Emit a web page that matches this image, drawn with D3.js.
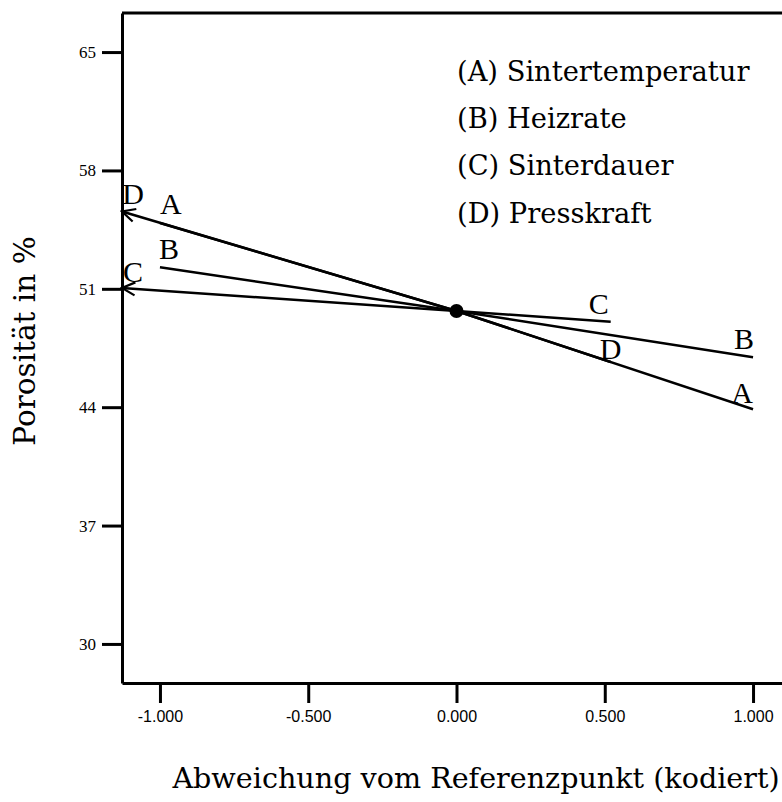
<!DOCTYPE html>
<html>
<head>
<meta charset="utf-8">
<script src="https://cdn.jsdelivr.net/npm/d3@7"></script>
<style>
  body { margin: 0; background: #fff; }
  svg { display: block; }
</style>
</head>
<body>
<script>
// coded deviation from reference point vs. porosity
const factorKeys = ['A', 'B', 'C', 'D'];
const factorNames = ['Sintertemperatur', 'Heizrate', 'Sinterdauer', 'Presskraft'];

const xA = [-1, 0, 1];
const yA = [54.89, 49.69, 43.88];
const xB = [-1, 0, 1];
const yB = [52.27, 49.69, 46.95];
const xC = [-1.128, 0, 0.52];
const yC = [51.05, 49.69, 49.05];
const xD = [-1.128, 0, 0.52];
const yD = [55.57, 49.69, 46.67];

const refPoint = [0, 49.69];

const xTicks = [-1, -0.5, 0, 0.5, 1];
const yTicks = [30, 37, 44, 51, 58, 65];

const width = 782;
const height = 802;

const svg = d3.select('body').append('svg')
  .attr('width', width)
  .attr('height', height);

// plot area: left 122, top 13, bottom 683 (right edge runs off the canvas)
const x = d3.scaleLinear().domain([-1.128, 1.128]).range([122, 791]);
const y = d3.scaleLinear().domain([27.69, 67.31]).range([683, 13]);

const series = [
  { key: 'A', xs: xA, ys: yA, arrow: false },
  { key: 'B', xs: xB, ys: yB, arrow: false },
  { key: 'C', xs: xC, ys: yC, arrow: true },
  { key: 'D', xs: xD, ys: yD, arrow: true }
];

// open chevron for clipped lines
svg.append('defs').append('marker')
  .attr('id', 'chev')
  .attr('markerUnits', 'userSpaceOnUse')
  .attr('viewBox', '-14 -8 16 16')
  .attr('refX', 0).attr('refY', 0)
  .attr('markerWidth', 16).attr('markerHeight', 16)
  .attr('orient', 'auto-start-reverse')
  .append('path')
  .attr('d', 'M-13,-6.5L0,0L-13,6.5')
  .attr('fill', 'none')
  .attr('stroke', '#000')
  .attr('stroke-width', 2.2);

// frame top border
svg.append('line')
  .attr('x1', x.range()[0]).attr('x2', x.range()[1])
  .attr('y1', y.range()[1]).attr('y2', y.range()[1])
  .attr('stroke', '#000').attr('stroke-width', 3);

// axes
const yAxis = svg.append('g')
  .attr('transform', `translate(${x.range()[0]},0)`)
  .call(d3.axisLeft(y).tickValues(yTicks).tickSize(20).tickSizeOuter(0).tickPadding(6).tickFormat(d3.format('d')));
yAxis.select('.domain').attr('stroke-width', 3);
yAxis.selectAll('.tick line').attr('stroke-width', 3);
yAxis.selectAll('.tick text')
  .attr('font-family', '"Liberation Serif", serif')
  .attr('font-size', 17)
  .attr('fill', '#000');

const fmtX = d => d3.format('.3f')(d).replace('\u2212', '-');
const xAxis = svg.append('g')
  .attr('transform', `translate(0,${y.range()[0]})`)
  .call(d3.axisBottom(x).tickValues(xTicks).tickSize(20).tickSizeOuter(0).tickPadding(8).tickFormat(fmtX));
xAxis.select('.domain').attr('stroke-width', 3);
xAxis.selectAll('.tick line').attr('stroke-width', 3);
xAxis.selectAll('.tick text')
  .attr('font-family', '"Liberation Sans", sans-serif')
  .attr('font-size', 16)
  .attr('fill', '#000');

// traces
const line = d3.line()
  .x(d => x(d[0]))
  .y(d => y(d[1]));

svg.append('g')
  .selectAll('path')
  .data(series)
  .enter().append('path')
  .attr('d', s => line(s.xs.map((v, i) => [v, s.ys[i]])))
  .attr('fill', 'none')
  .attr('stroke', '#000')
  .attr('stroke-width', 2.5)
  .attr('marker-start', s => s.arrow ? 'url(#chev)' : null);

// reference point
svg.append('circle')
  .attr('cx', x(refPoint[0]))
  .attr('cy', y(refPoint[1]))
  .attr('r', 7)
  .attr('fill', '#000');

// letter labels at both ends of every trace (pixel nudges only)
const labelNudge = {
  A: { start: [11, -9], end: [-11, -6] },
  B: { start: [9, -8], end: [-9, -8] },
  C: { start: [11, -6], end: [-12, -8] },
  D: { start: [11, -8], end: [0, -3] }
};

const labels = [];
series.forEach(s => {
  const n = s.xs.length - 1;
  labels.push({ key: s.key, px: x(s.xs[0]), py: y(s.ys[0]), nudge: labelNudge[s.key].start });
  labels.push({ key: s.key, px: x(s.xs[n]), py: y(s.ys[n]), nudge: labelNudge[s.key].end });
});

svg.append('g')
  .selectAll('text')
  .data(labels)
  .enter().append('text')
  .attr('x', d => d.px + d.nudge[0])
  .attr('y', d => d.py + d.nudge[1])
  .attr('text-anchor', 'middle')
  .attr('font-family', '"Liberation Serif", serif')
  .attr('font-size', 30)
  .attr('fill', '#000')
  .text(d => d.key);

// legend
svg.append('g')
  .selectAll('text')
  .data(factorKeys)
  .enter().append('text')
  .attr('x', 457)
  .attr('y', (d, i) => 81 + i * 47.2)
  .attr('font-family', '"DejaVu Serif", serif')
  .attr('font-size', 27.3)
  .attr('fill', '#000')
  .text((d, i) => `(${d}) ${factorNames[i]}`);

// axis titles
svg.append('text')
  .attr('x', 476)
  .attr('y', 788)
  .attr('text-anchor', 'middle')
  .attr('font-family', '"DejaVu Serif", serif')
  .attr('font-size', 28.6)
  .attr('fill', '#000')
  .text('Abweichung vom Referenzpunkt (kodiert)');

svg.append('text')
  .attr('transform', 'translate(35,341) rotate(-90)')
  .attr('text-anchor', 'middle')
  .attr('font-family', '"DejaVu Serif", serif')
  .attr('font-size', 29.5)
  .attr('fill', '#000')
  .text('Porosität in %');
</script>
</body>
</html>
